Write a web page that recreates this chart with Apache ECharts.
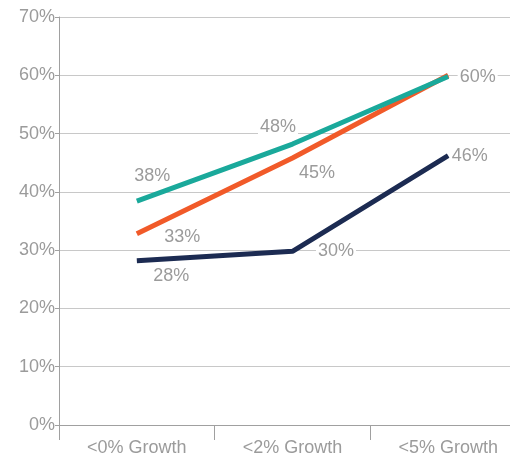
<!DOCTYPE html>
<html>
<head>
<meta charset="utf-8">
<script src="https://cdn.jsdelivr.net/npm/echarts@6/dist/echarts.min.js"></script>
<style>
  html, body { margin: 0; padding: 0; background: #fff; }
  #chart { width: 510px; height: 458px; }
</style>
</head>
<body>
<div id="chart"></div>
<script>
  // categories on the x axis
  var categories = ['<0% Growth', '<2% Growth', '<5% Growth'];

  // series values
  var tealValues = [38.4, 48.2, 59.8];
  var orangeValues = [32.8, 45.8, 60];
  var navyValues = [28.2, 29.8, 46.2];

  // point labels as printed
  var tealLabels = ['38%', '48%', '60%'];
  var orangeLabels = ['33%', '45%', ''];
  var navyLabels = ['28%', '30%', '46%'];

  var textColor = '#9b9b9b';

  /** label placement per point: [dx, dy] of label centre from the point */
  var tealOffsets = [[16, -25], [-14, -17], [30, 1]];
  var orangeOffsets = [[46, 4], [25, 15], [0, 0]];
  var navyOffsets = [[35, 16], [44, 0], [22, 1]];

  function buildData(values, labels, offsets) {
    return values.map(function(v, i) {
      return {
        value: v,
        label: {
          show: labels[i] !== '',
          // position is measured from the (1px) symbol box
          position: offsets[i],
          align: 'center',
          verticalAlign: 'middle',
          formatter: labels[i]
        }
      };
    });
  }

  function makeSeries(name, color, values, labels, offsets, z) {
    return {
      name: name,
      type: 'line',
      data: buildData(values, labels, offsets),
      // labels hang on symbols, so keep an invisible one
      symbol: 'circle',
      symbolSize: 1,
      showSymbol: true,
      z: z,
      lineStyle: { color: color, width: 5 },
      itemStyle: { color: 'rgba(0,0,0,0)' },
      label: {
        show: true,
        color: textColor,
        fontFamily: 'Liberation Sans',
        fontSize: 18,
        lineHeight: 18,
        backgroundColor: '#fff',
        padding: [0, 2]
      }
    };
  }

  var option = {
    animation: false,
    backgroundColor: '#fff',
    grid: { left: 59, width: 467, top: 17, bottom: 33, outerBoundsMode: 'none', containLabel: false },
    xAxis: {
      type: 'category',
      data: categories,
      boundaryGap: true,
      axisLine: { lineStyle: { color: '#a0a0a0', width: 1 } },
      axisTick: { show: true, length: 15, lineStyle: { color: '#a0a0a0' } },
      axisLabel: {
        color: textColor,
        fontFamily: 'Liberation Sans',
        fontSize: 18,
        margin: 14
      }
    },
    yAxis: {
      type: 'value',
      min: 0,
      max: 70,
      interval: 10,
      axisLine: { show: true, lineStyle: { color: '#a0a0a0', width: 1 } },
      axisTick: { show: true, length: 4, lineStyle: { color: '#a0a0a0' } },
      axisLabel: {
        color: textColor,
        fontFamily: 'Liberation Sans',
        fontSize: 18,
        margin: 4,
        formatter: '{value}%'
      },
      splitLine: { show: true, lineStyle: { color: '#c8c8c8', width: 1 } }
    },
    series: [
      makeSeries('navy', '#1c2b52', navyValues, navyLabels, navyOffsets, 2),
      makeSeries('orange', '#f15a29', orangeValues, orangeLabels, orangeOffsets, 3),
      makeSeries('teal', '#1aa99b', tealValues, tealLabels, tealOffsets, 4)
    ]
  };

  echarts.init(document.getElementById('chart')).setOption(option);
</script>
</body>
</html>
